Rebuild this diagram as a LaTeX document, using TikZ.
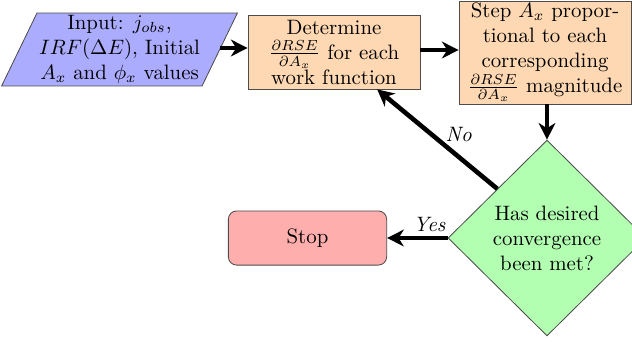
\documentclass[tikz,border=0pt]{standalone}
\usetikzlibrary{shapes.geometric,arrows.meta,calc}
\definecolor{inblue}{RGB}{172,172,255}
\definecolor{boxorange}{RGB}{253,216,178}
\definecolor{diagreen}{RGB}{178,255,178}
\definecolor{stopred}{RGB}{255,174,174}
\begin{document}
\begin{tikzpicture}[x=0.48pt,y=-0.48pt,
  every node/.style={align=center, inner sep=1pt},
  inbox/.style={trapezium, trapezium left angle=64, trapezium right angle=116,
    trapezium stretches body, draw=black!70, fill=inblue, line width=0.4pt,
    minimum width=112pt, minimum height=35pt},
  procbox/.style={rectangle, draw=black!70, fill=boxorange, line width=0.4pt},
  decbox/.style={diamond, aspect=1, draw=black!70, fill=diagreen, line width=0.4pt,
    minimum width=95pt, minimum height=94pt, inner sep=0pt},
  stopbox/.style={rectangle, rounded corners=4pt, draw=black!70, fill=stopred, line width=0.4pt,
    minimum width=76pt, minimum height=26pt},
  flow/.style={line width=2.2pt, -{Stealth[length=8pt,width=8pt,inset=2.5pt]}},
  lab/.style={font=\itshape}]
\useasboundingbox (0,0) rectangle (632,341);
\begin{scope}
\clip (0,0) rectangle (632,341);
\node[inbox] (in) at (119.5,49.5) {Input: $j_{obs}$,\\ $IRF(\Delta E)$, Initial\\ $A_x$ and $\phi_x$ values};
\node[procbox, minimum width=82.5pt, minimum height=35.5pt] (det) at (334,52)
  {Determine\\ $\frac{\partial RSE}{\partial A_x}$ for each\\ work function};
\node[procbox, minimum width=82.5pt, minimum height=48.5pt] (step) at (545,52.5)
  {Step $A_x$ propor-\\ tional to each\\ corresponding\\ $\frac{\partial RSE}{\partial A_x}$ magnitude};
\node[decbox] (dia) at (547,238) {Has desired\\ convergence\\ been met?};
\node[stopbox] (stop) at (307.5,238) {Stop};
\coordinate (detb) at ($(det.south)!0.5!(det.south east)$);
\draw[flow] (in.east |- 0,48) -- (det.west |- 0,48);
\draw[flow] (det.east |- 0,50) -- (step.west |- 0,50);
\draw[flow] (step.south -| dia.north) -- (dia.north);
\draw[flow] (dia.north west) -- node[lab, pos=0.45, above right=-1pt] {No} (detb);
\draw[flow] (dia.west) -- node[lab, pos=0.3, above=1pt] {Yes} (stop.east);
\end{scope}
\end{tikzpicture}
\end{document}
